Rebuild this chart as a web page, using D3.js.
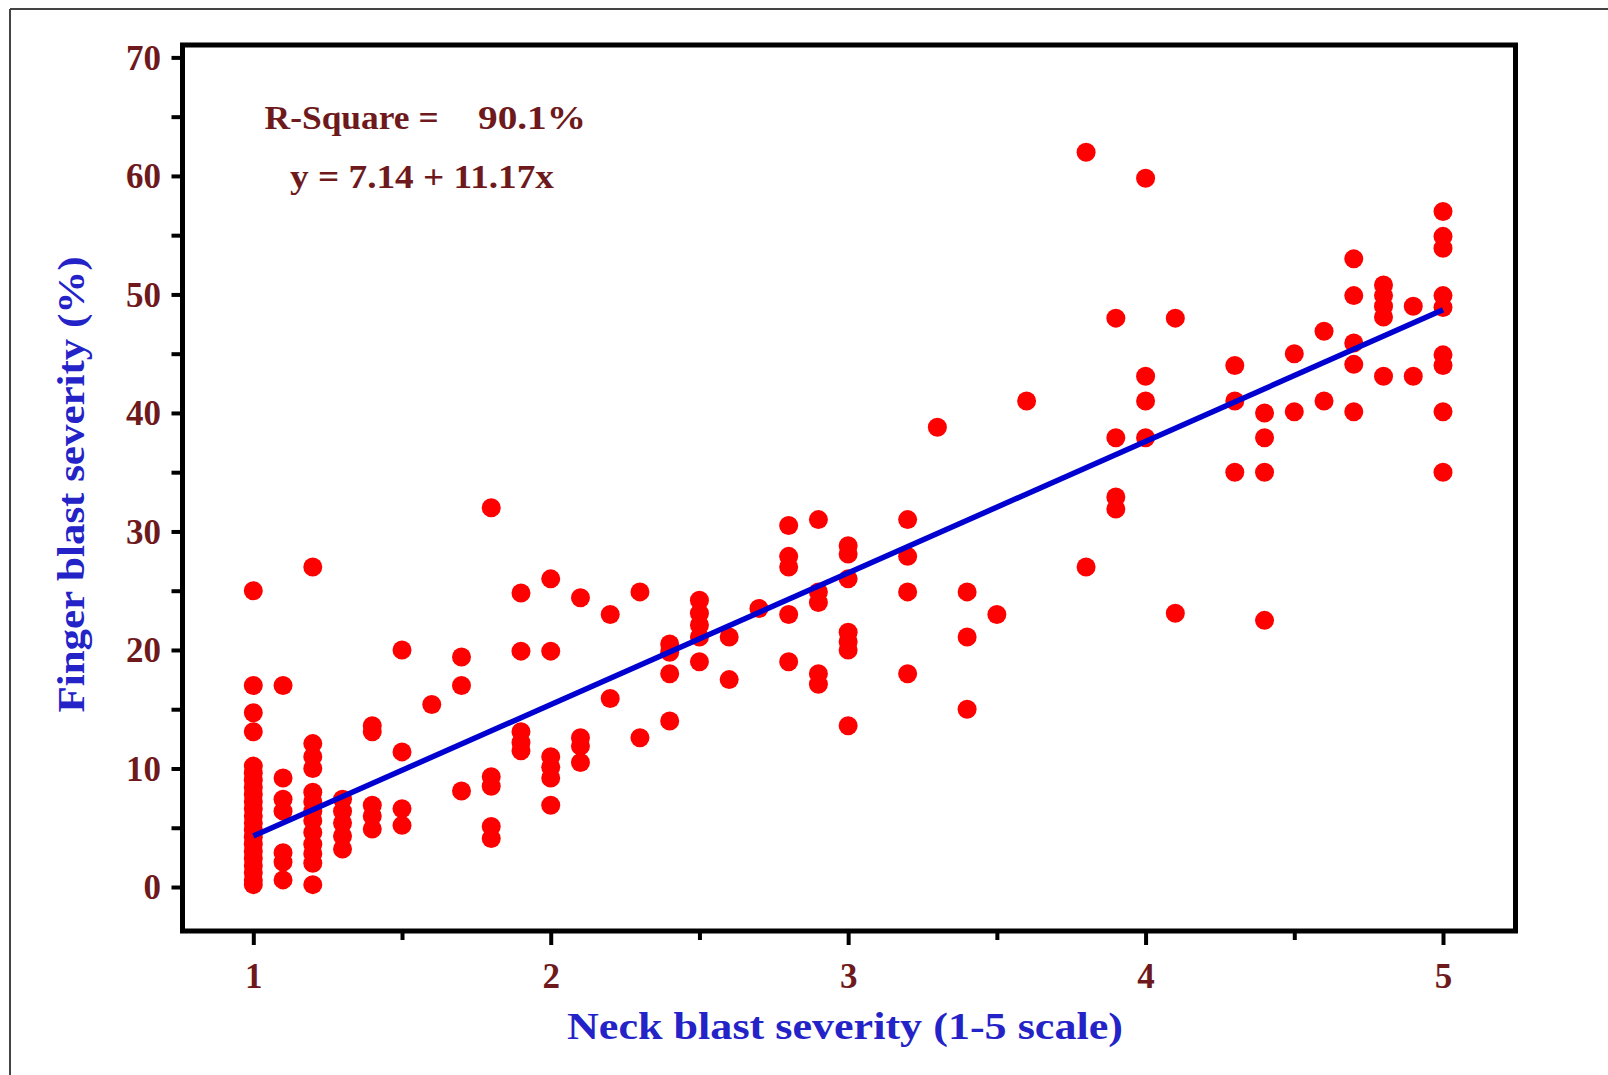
<!DOCTYPE html>
<html>
<head>
<meta charset="utf-8">
<script src="https://cdn.jsdelivr.net/npm/d3@7"></script>
<style>
  html, body { margin: 0; padding: 0; background: #ffffff; }
  svg { display: block; }
</style>
</head>
<body>
<svg id="chart" width="1608" height="1075"></svg>
<script>
// ---------------- DATA ----------------
const neckLevels = [1.0, 1.1, 1.2, 1.3, 1.4, 1.5, 1.6, 1.7, 1.8, 1.9,
                    2.0, 2.1, 2.2, 2.3, 2.4, 2.5, 2.6, 2.7, 2.8, 2.9,
                    3.0, 3.2, 3.3, 3.4, 3.5, 3.6, 3.8, 3.9, 4.0, 4.1,
                    4.3, 4.4, 4.5, 4.6, 4.7, 4.8, 4.9, 5.0];
const fingerValues = [
  [25, 17, 14.7, 13.1, 10.2, 9.6, 9.0, 8.4, 7.8, 7.2, 6.6, 6.0, 5.4, 4.8, 4.2, 3.6, 3.0, 2.4, 1.8, 1.2, 0.6, 0.2],
  [17, 9.2, 7.4, 6.4, 2.9, 2.1, 0.6],
  [27, 12.1, 11.0, 10.0, 8.0, 7.2, 6.4, 5.6, 4.6, 3.6, 2.8, 2.0, 0.2],
  [7.4, 6.4, 5.4, 4.3, 3.2],
  [13.6, 13.1, 6.9, 6.0, 4.9],
  [20.0, 11.4, 6.6, 5.2],
  [15.4],
  [19.4, 17.0, 8.1],
  [32.0, 9.3, 8.5, 5.1, 4.1],
  [24.8, 19.9, 13.1, 12.2, 11.5],
  [26.0, 19.9, 11.0, 10.1, 9.2, 6.9],
  [24.4, 12.6, 11.9, 10.5],
  [23.0, 15.9],
  [24.9, 12.6],
  [20.5, 19.8, 18.0, 14.0],
  [24.2, 23.1, 22.1, 21.1, 19.0],
  [21.1, 17.5],
  [23.5],
  [30.5, 27.9, 27.0, 23.0, 19.0],
  [31.0, 24.9, 24.0, 18.0, 17.1],
  [28.8, 28.1, 26.0, 21.5, 20.7, 20.0, 13.6],
  [31.0, 27.9, 24.9, 18.0],
  [38.8],
  [24.9, 21.1, 15.0],
  [23.0],
  [41.0],
  [62.0, 27.0],
  [48.0, 37.9, 32.9, 31.9],
  [59.8, 43.1, 41.0, 37.9],
  [48.0, 23.1],
  [44.0, 41.0, 35.0],
  [40.0, 37.9, 35.0, 22.5],
  [45.0, 40.1],
  [46.9, 41.0],
  [53.0, 49.9, 45.9, 44.1, 40.1],
  [50.8, 49.9, 49.0, 48.1, 43.1],
  [49.0, 43.1],
  [57.0, 54.9, 53.9, 49.9, 48.9, 44.9, 44.0, 40.1, 35.0]
];
// fitted line end points as drawn in the picture
const fitX = [1, 5];
const fitY = [4.3, 48.7];

const xMajorTicks = [1, 2, 3, 4, 5];
const xMinorTicks = [1.5, 2.5, 3.5, 4.5];
const yMajorTicks = [0, 10, 20, 30, 40, 50, 60, 70];
const yMinorTicks = [5, 15, 25, 35, 45, 55, 65];

const xTitle = "Neck blast severity (1-5 scale)";
const yTitle = "Finger blast severity (%)";
const rSquareLabel = "R-Square =";
const rSquareValue = "90.1%";
const equationLabel = "y = 7.14 + 11.17x";

// ---------------- LAYOUT ----------------
const frame = { left: 182.5, right: 1515.5, top: 45, bottom: 931 };
const x = d3.scaleLinear().domain([1, 5]).range([253.3, 1443]);
const y = d3.scaleLinear().domain([0, 70]).range([887, 57.4]);

const serif = "'Liberation Serif', 'Times New Roman', serif";
const maroon = "#6e1a1d";
const titleBlue = "#2323c8";

const svg = d3.select("#chart");

// outer picture border (top & left only)
svg.append("line").attr("x1", 10).attr("y1", 9).attr("x2", 1608).attr("y2", 9)
  .attr("stroke", "#444").attr("stroke-width", 2);
svg.append("line").attr("x1", 10).attr("y1", 9).attr("x2", 10).attr("y2", 1075)
  .attr("stroke", "#444").attr("stroke-width", 2);

// points
const points = [];
neckLevels.forEach((lv, i) => fingerValues[i].forEach(v => points.push([lv, v])));

svg.append("g").selectAll("circle").data(points).join("circle")
  .attr("cx", d => x(d[0]))
  .attr("cy", d => y(d[1]))
  .attr("r", 9.5)
  .attr("fill", "#ff0000");

// fitted line
svg.append("path")
  .datum(fitX.map((v, i) => [v, fitY[i]]))
  .attr("d", d3.line().x(d => x(d[0])).y(d => y(d[1])))
  .attr("fill", "none")
  .attr("stroke", "#0000d0")
  .attr("stroke-width", 5.5);

// frame
svg.append("rect")
  .attr("x", frame.left).attr("y", frame.top)
  .attr("width", frame.right - frame.left).attr("height", frame.bottom - frame.top)
  .attr("fill", "none").attr("stroke", "#000").attr("stroke-width", 5);

// y axis
const yAxisG = svg.append("g").attr("transform", `translate(${frame.left},0)`)
  .call(d3.axisLeft(y).tickValues(yMajorTicks).tickSize(11).tickPadding(10.5).tickFormat(d3.format("d")));
const yMinorG = svg.append("g").attr("transform", `translate(${frame.left},0)`)
  .call(d3.axisLeft(y).tickValues(yMinorTicks).tickSize(11).tickFormat(""));

// x axis
const xAxisG = svg.append("g").attr("transform", `translate(0,${frame.bottom})`)
  .call(d3.axisBottom(x).tickValues(xMajorTicks).tickSize(14).tickFormat(d3.format("d")));
const xMinorG = svg.append("g").attr("transform", `translate(0,${frame.bottom})`)
  .call(d3.axisBottom(x).tickValues(xMinorTicks).tickSize(9).tickFormat(""));

[yAxisG, yMinorG, xAxisG, xMinorG].forEach(g => {
  g.select(".domain").remove();
  g.selectAll(".tick line").attr("stroke", "#000").attr("stroke-width", 4);
  g.selectAll(".tick text")
    .attr("fill", maroon)
    .style("font-family", serif)
    .style("font-weight", "bold")
    .style("font-size", "35px");
});
xAxisG.selectAll(".tick text").attr("y", 56.5).attr("dy", 0);
yAxisG.selectAll(".tick text").attr("dy", "0.34em");

// axis titles
svg.append("text")
  .attr("x", 845).attr("y", 1039)
  .attr("text-anchor", "middle")
  .attr("fill", titleBlue)
  .style("font-family", serif).style("font-weight", "bold").style("font-size", "37px")
  .attr("textLength", 556).attr("lengthAdjust", "spacingAndGlyphs")
  .text(xTitle);

svg.append("text")
  .attr("transform", "translate(84,484.5) rotate(-90)")
  .attr("text-anchor", "middle")
  .attr("fill", titleBlue)
  .style("font-family", serif).style("font-weight", "bold").style("font-size", "37px")
  .attr("textLength", 456).attr("lengthAdjust", "spacingAndGlyphs")
  .text(yTitle);

// annotations
const ann = svg.append("g")
  .attr("fill", maroon)
  .style("font-family", serif).style("font-weight", "bold").style("font-size", "34px");
ann.append("text").attr("x", 264.6).attr("y", 129)
  .attr("textLength", 174).attr("lengthAdjust", "spacingAndGlyphs").text(rSquareLabel);
ann.append("text").attr("x", 478).attr("y", 129)
  .attr("textLength", 108).attr("lengthAdjust", "spacingAndGlyphs").text(rSquareValue);
ann.append("text").attr("x", 290).attr("y", 188)
  .attr("textLength", 264).attr("lengthAdjust", "spacingAndGlyphs").text(equationLabel);
</script>
</body>
</html>
